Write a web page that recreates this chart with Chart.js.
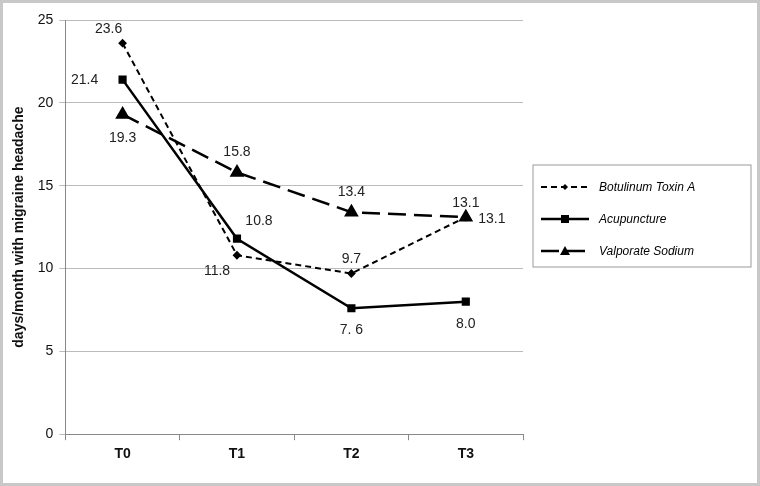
<!DOCTYPE html>
<html><head><meta charset="utf-8">
<script src="https://cdn.jsdelivr.net/npm/chart.js@4"></script>
<style>
html,body{margin:0;padding:0;background:#fff;}
#wrap{position:relative;width:760px;height:486px;box-sizing:border-box;border:3px solid #c8c8c8;}
canvas{display:block;}
</style></head><body>
<div id="wrap"><canvas id="c" width="754" height="480"></canvas></div>
<script>
const categories = ['T0','T1','T2','T3'];
const seriesNames = ['Botulinum Toxin A','Acupuncture','Valporate Sodium'];
const botulinum = [23.6, 10.8, 9.7, 13.1];
const acupuncture = [21.4, 11.8, 7.6, 8.0];
const valporate = [19.3, 15.8, 13.4, 13.1];
const botLabels = ['23.6','11.8','9.7','13.1'];
const acuLabels = ['21.4','10.8','7. 6','8.0'];
const valLabels = ['19.3','15.8','13.4','13.1'];
const yTicks = [0,5,10,15,20,25];

const offsets = [
  [[-14,-14],[-20,16],[0,-14],[0,-14]],
  [[-38,0],[22,-18],[0,22],[0,22]],
  [[0,24],[0,-20],[0,-20],[26,2]]
];
const labelSets=[botLabels,acuLabels,valLabels];

const labelPlugin={id:'lbl',afterDatasetsDraw(chart){
  const ctx=chart.ctx;ctx.save();ctx.font='14px "Liberation Sans", Arial';ctx.fillStyle='#222';
  ctx.textAlign='center';ctx.textBaseline='middle';
  chart.data.datasets.forEach((ds,i)=>{
    chart.getDatasetMeta(i).data.forEach((p,j)=>{
      ctx.fillText(labelSets[i][j],p.x+offsets[i][j][0],p.y+offsets[i][j][1]);
    });
  });
  const lx=530,ly=162,lw=218,lh=102;
  ctx.strokeStyle='#999';ctx.lineWidth=1;ctx.strokeRect(lx,ly,lw,lh);
  ctx.font='italic 12px "Liberation Sans", Arial';ctx.textAlign='left';
  chart.data.datasets.forEach((ds,i)=>{
    const y=ly+22+i*32;
    ctx.strokeStyle='#000';ctx.lineWidth=ds.borderWidth;ctx.setLineDash(ds.borderDash||[]);
    ctx.beginPath();ctx.moveTo(lx+8,y);ctx.lineTo(lx+56,y);ctx.stroke();ctx.setLineDash([]);
    ctx.fillStyle='#000';
    const cx=lx+32;
    if(i===0){ctx.beginPath();ctx.moveTo(cx,y-3);ctx.lineTo(cx+3,y);ctx.lineTo(cx,y+3);ctx.lineTo(cx-3,y);ctx.fill();}
    else if(i===1){ctx.fillRect(cx-4,y-4,8,8);}
    else {ctx.beginPath();ctx.moveTo(cx,y-5);ctx.lineTo(cx+5,y+4);ctx.lineTo(cx-5,y+4);ctx.fill();}
    ctx.fillStyle='#000';ctx.fillText(seriesNames[i],lx+66,y+1);
  });
  ctx.restore();
}};

new Chart(document.getElementById('c'),{
  type:'line',
  data:{labels:categories,datasets:[
    {label:seriesNames[0],data:botulinum,borderColor:'#000',backgroundColor:'#000',borderWidth:2,borderDash:[6,4],pointStyle:'rectRot',pointRadius:3},
    {label:seriesNames[1],data:acupuncture,borderColor:'#000',backgroundColor:'#000',borderWidth:2.5,pointStyle:'rect',pointRadius:4},
    {label:seriesNames[2],data:valporate,borderColor:'#000',backgroundColor:'#000',borderWidth:2.5,borderDash:[18,8],pointStyle:'triangle',pointRadius:6}
  ]},
  options:{responsive:false,animation:false,
    layout:{padding:{left:4,right:234,top:17,bottom:14}},
    plugins:{legend:{display:false},tooltip:{enabled:false}},
    scales:{
      x:{offset:true,grid:{display:true,offset:true,drawOnChartArea:false,tickLength:6,color:'#888'},border:{color:'#888'},
         ticks:{color:'#111',font:{size:14,weight:'bold',family:'"Liberation Sans", Arial'},padding:6}},
      y:{min:0,max:25,afterBuildTicks(s){s.ticks=yTicks.map(v=>({value:v}));},
         grid:{color:'#bbb',drawTicks:true,tickLength:6},border:{color:'#888'},
         ticks:{color:'#111',font:{size:14,family:'"Liberation Sans", Arial'},padding:6},
         title:{display:true,text:'days/month with migraine headache',color:'#111',font:{size:14,weight:'bold',family:'"Liberation Sans", Arial'}}}
    }},
  plugins:[labelPlugin]
});
</script></body></html>
